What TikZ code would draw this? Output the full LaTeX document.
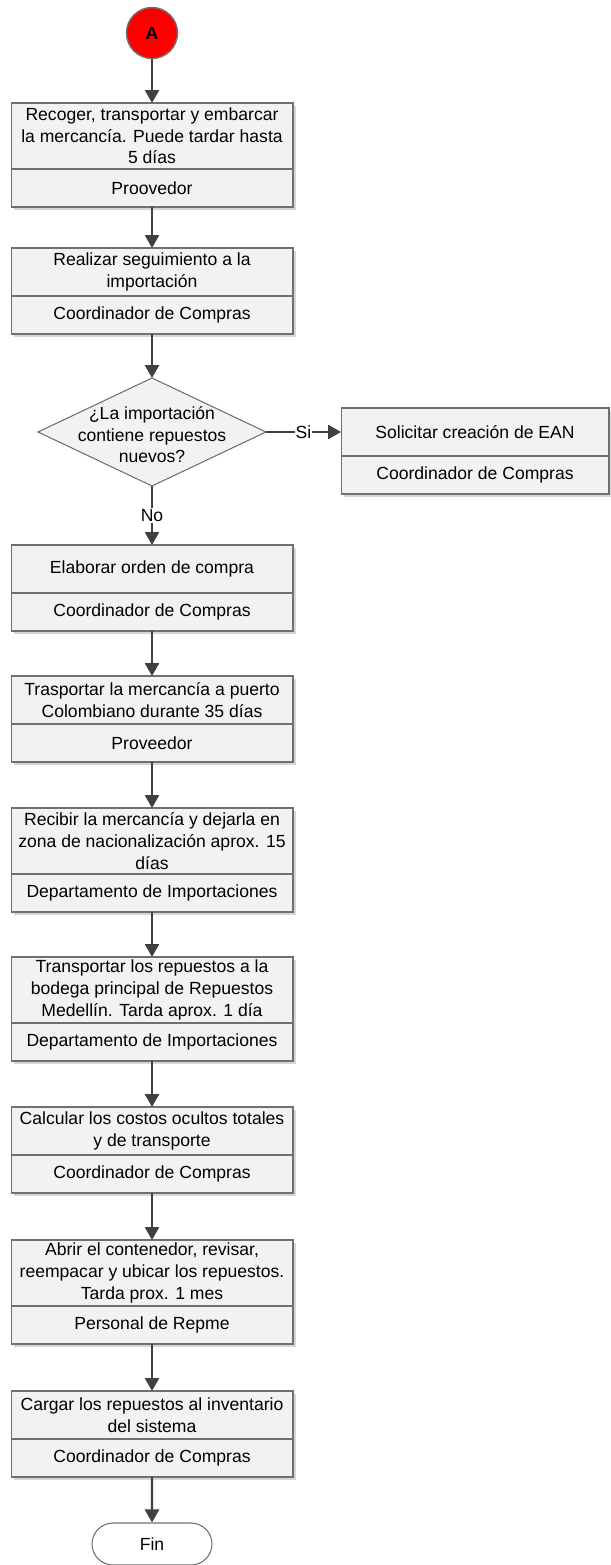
\documentclass[tikz,border=0pt]{standalone}
\usepackage{fontspec}
\setmainfont{Liberation Sans}
\usetikzlibrary{shapes.geometric,shapes.misc,shadows,arrows.meta}
\definecolor{relleno}{HTML}{F2F2F2}
\definecolor{borde}{HTML}{707070}
\definecolor{flechagris}{HTML}{404040}
\definecolor{sombra}{HTML}{D6D6D6}
\begin{document}
\begin{tikzpicture}[x=0.02cm,y=-0.02cm,font=\fontsize{10}{12.3}\selectfont,
	tarea/.style={rectangle,draw=borde,line width=0.6pt,fill=relleno,align=center,inner sep=0pt,outer sep=0pt,minimum width=5.64cm,minimum height=0.96cm,drop shadow={shadow xshift=0.06cm,shadow yshift=-0.06cm,fill=sombra,opacity=1}},
	rol/.style={tarea,minimum height=0.76cm},
	decision/.style={diamond,draw=borde,line width=0.6pt,fill=relleno,inner sep=0pt,outer sep=0pt,minimum width=4.56cm,minimum height=2.16cm},
	inicio/.style={circle,draw=borde,line width=0.8pt,fill=red,inner sep=0pt,minimum size=1.02cm,font=\fontsize{10}{12}\selectfont\bfseries},
	final/.style={rounded rectangle,draw=borde,line width=0.6pt,fill=white,inner sep=0pt,minimum width=2.4cm,minimum height=0.84cm},
	flecha/.style={draw=flechagris,line width=1.4pt,-{Triangle[length=0.26cm,width=0.28cm]}},
	etiqueta/.style={fill=white,inner sep=0.6pt}]
	\useasboundingbox (0,0) rectangle (610,1565);
	\node[inicio] (c0) at (152,33) {A};
	\node[tarea,minimum height=1.32cm] (t1) at (152,136) {Recoger, transportar y embarcar\\la mercancía. Puede tardar hasta\\5 días};
	\node[rol] (r1) at (152,188) {Proovedor};
	\node[tarea] (t2) at (152,272) {Realizar seguimiento a la\\importación};
	\node[rol] (r2) at (152,315) {Coordinador de Compras};
	\node[decision,label={[align=center,yshift=-0.06cm]center:{¿La importación\\contiene repuestos\\nuevos?}}] (d) at (152,432) {}; % pregunta
	\node[tarea,minimum width=5.36cm] (tr) at (475,432) {Solicitar creación de EAN};
	\node[rol,minimum width=5.36cm] (rr) at (475,475) {Coordinador de Compras};
	\node[tarea] (t3) at (152,569) {Elaborar orden de compra};
	\node[rol] (r3) at (152,612) {Coordinador de Compras};
	\node[tarea] (t4) at (152,700) {Trasportar la mercancía a puerto\\Colombiano durante 35 días};
	\node[rol] (r4) at (152,743) {Proveedor};
	\node[tarea,minimum height=1.32cm] (t5) at (152,841) {Recibir la mercancía y dejarla en\\zona de nacionalización aprox. 15\\días};
	\node[rol] (r5) at (152,893) {Departamento de Importaciones};
	\node[tarea,minimum height=1.32cm] (t6) at (152,990) {Transportar los repuestos a la\\bodega principal de Repuestos\\Medellín. Tarda aprox. 1 día};
	\node[rol] (r6) at (152,1042) {Departamento de Importaciones};
	\node[tarea] (t7) at (152,1131) {Calcular los costos ocultos totales\\y de transporte};
	\node[rol] (r7) at (152,1174) {Coordinador de Compras};
	\node[tarea,minimum height=1.32cm] (t8) at (152,1273) {Abrir el contenedor, revisar,\\reempacar y ubicar los repuestos.\\Tarda prox. 1 mes};
	\node[rol] (r8) at (152,1325) {Personal de Repme};
	\node[tarea] (t9) at (152,1415) {Cargar los repuestos al inventario\\del sistema};
	\node[rol] (r9) at (152,1458) {Coordinador de Compras};
	\node[final] (fin) at (152,1544) {Fin}; % terminador
	\draw[flecha] (c0) -- (t1);
	\draw[flecha] (r1) -- (t2);
	\draw[flecha] (r2) -- (d);
	\draw[flecha] (d) -- node[etiqueta] {Si} (tr);
	\draw[flecha] (d) -- node[etiqueta] {No} (t3);
	\draw[flecha] (r3) -- (t4);
	\draw[flecha] (r4) -- (t5);
	\draw[flecha] (r5) -- (t6);
	\draw[flecha] (r6) -- (t7);
	\draw[flecha] (r7) -- (t8);
	\draw[flecha] (r8) -- (t9);
	\draw[flecha] (r9) -- (fin);
\end{tikzpicture}
\end{document}
